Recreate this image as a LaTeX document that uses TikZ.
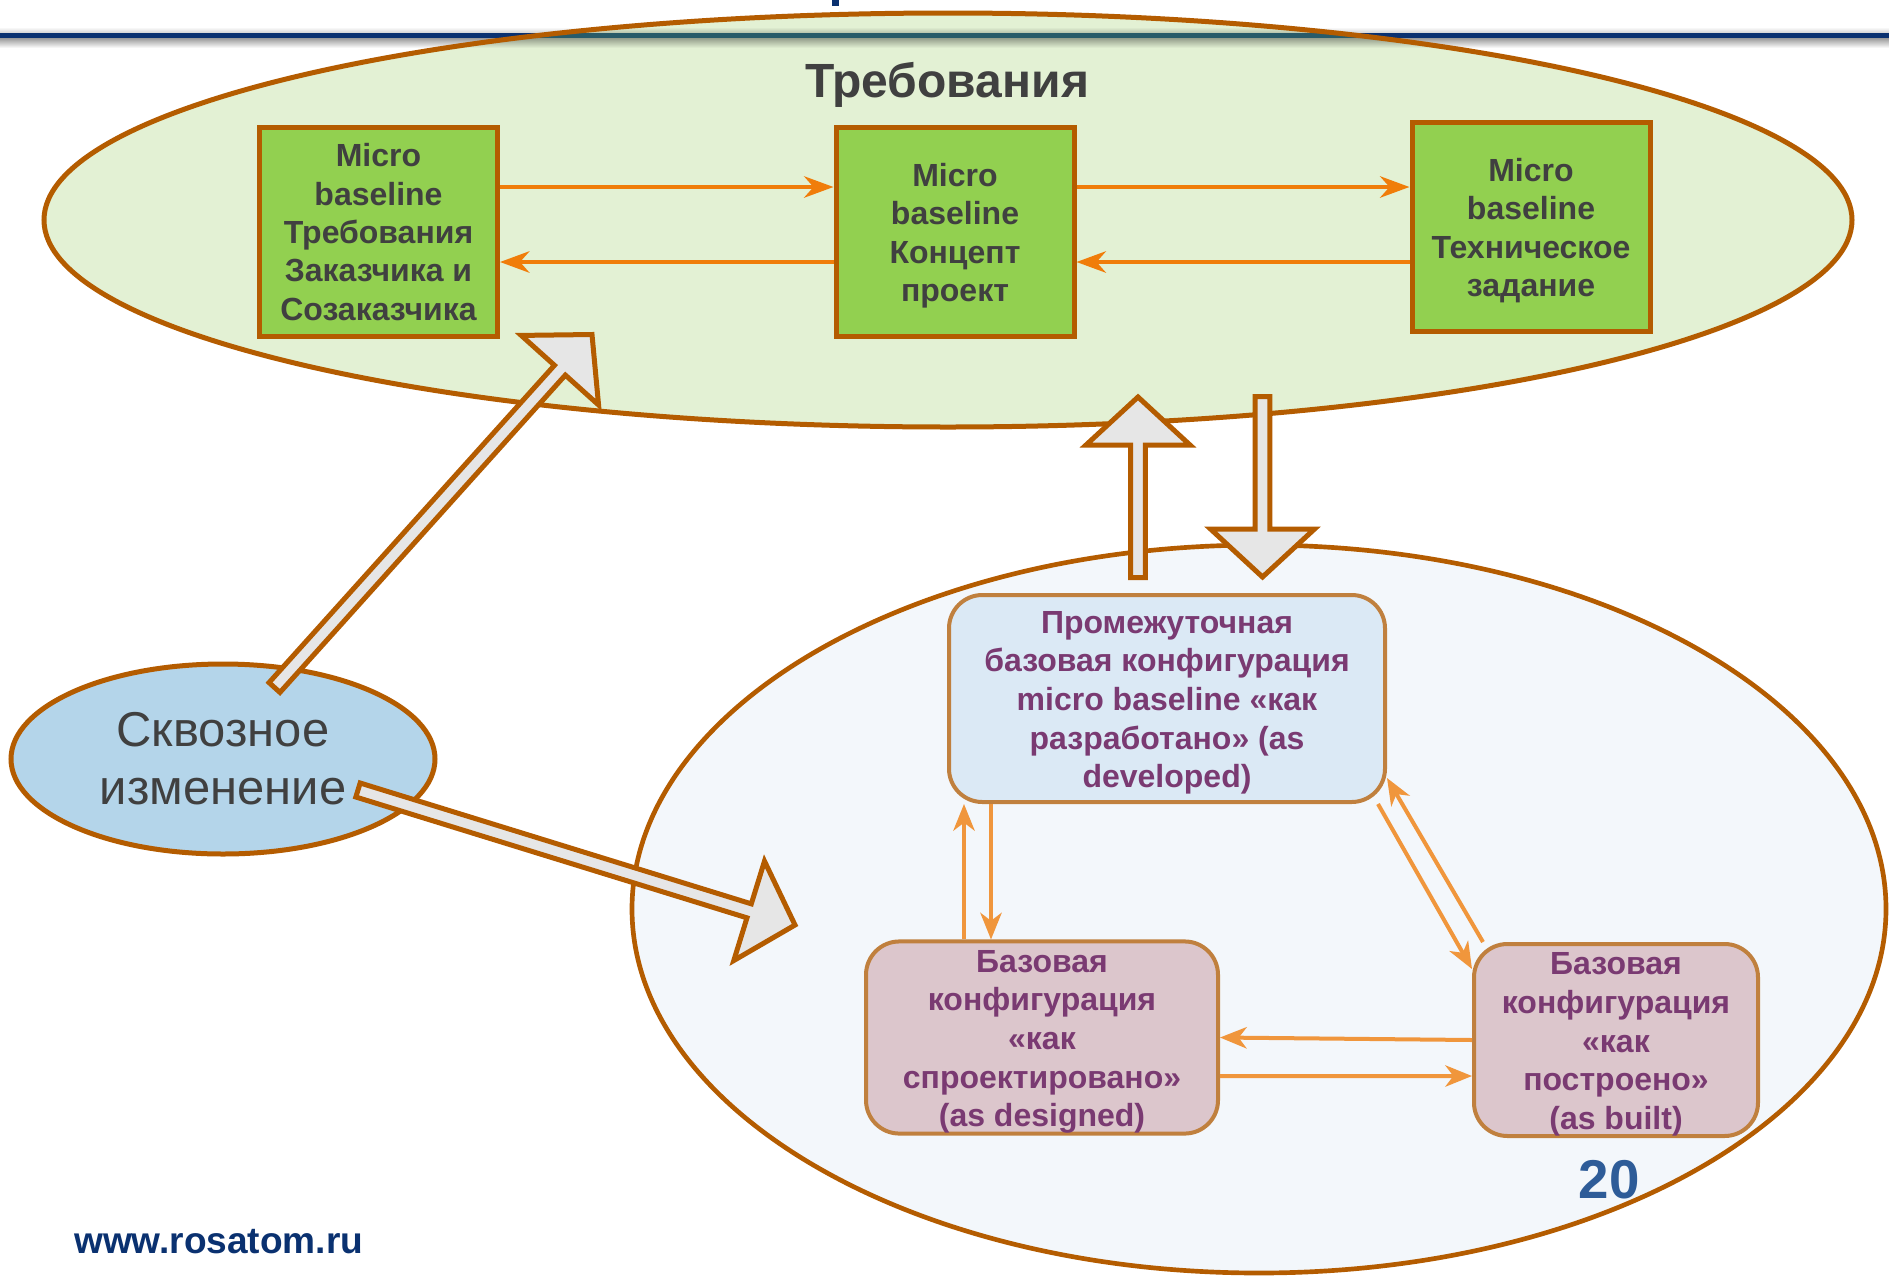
\documentclass[tikz,border=0pt]{standalone}
\usepackage{fontspec}
\setmainfont{Liberation Sans}
\usetikzlibrary{arrows.meta,calc,shapes.geometric}

\definecolor{navy}{HTML}{0A3170}
\definecolor{bandteal}{HTML}{285B69}
\definecolor{reqfill}{HTML}{E3F1D4}
\definecolor{edgeorange}{HTML}{B45C00}
\definecolor{boxgreen}{HTML}{92D050}
\definecolor{arrorange}{HTML}{F07D0A}
\definecolor{textgrey}{HTML}{404040}
\definecolor{chgfill}{HTML}{B4D5EA}
\definecolor{cfgarea}{HTML}{F3F7FB}
\definecolor{pfill}{HTML}{DBE9F5}
\definecolor{dfill}{HTML}{DCC6CC}
\definecolor{cfgedge}{HTML}{C0803E}
\definecolor{cfgtext}{HTML}{7A3A72}
\definecolor{lightorange}{HTML}{F0963C}
\definecolor{fatgrey}{HTML}{E6E6E6}
\definecolor{pgblue}{HTML}{2E5C98}

% hollow block arrow from #1 (tail) to #2 (tip)
\newcommand\fatarrow[2]{%
  \coordinate (fa-h) at ($(#2)!36pt!(#1)$);
  \draw[fatstyle]
    ($(#1)!5.5pt!90:(#2)$) --
    ($(fa-h)!5.5pt!90:(#2)$) --
    ($(fa-h)!39pt!90:(#2)$) --
    (#2) --
    ($(fa-h)!39pt!-90:(#2)$) --
    ($(fa-h)!5.5pt!-90:(#2)$) --
    ($(#1)!5.5pt!-90:(#2)$) -- cycle;}

% taller first line, to lower a text block a little inside its box
\newcommand\toplift{\rule{0pt}{23pt}}

\begin{document}
\begin{tikzpicture}[x=0.75pt,y=-0.75pt,
  bigell/.style={ellipse, inner sep=0pt, outer sep=0pt},
  mbox/.style={rectangle, draw=edgeorange, line width=3.75pt, fill=boxgreen,
    inner sep=0pt, minimum width=178.5pt, minimum height=156.75pt,
    align=center, text=textgrey,
    font=\bfseries\fontsize{24pt}{28.8pt}\selectfont},
  cbox/.style={rectangle, rounded corners=25pt, draw=cfgedge, line width=3pt,
    inner sep=0pt, align=center, text=cfgtext,
    font=\bfseries\fontsize{24pt}{29pt}\selectfont},
  toparr/.style={draw=arrorange, line width=3.4pt,
    -{Stealth[length=22pt,width=16pt,inset=7pt]}},
  lowarr/.style={draw=lightorange, line width=3pt,
    -{Stealth[length=20pt,width=16pt,inset=6pt]}},
  fatstyle/.style={draw=edgeorange, fill=fatgrey, line width=3.75pt}]

\useasboundingbox (0,0) rectangle (1889,1275);
\fill[white] (0,0) rectangle (1889,1275);

% header rule with its soft shadow
\shade[top color=white, bottom color=black!18] (0,27) rectangle (1889,33);
\shade[top color=black!40, bottom color=white] (0,38) rectangle (1889,48);
\fill[navy] (0,32.7) rectangle (1889,38.3);
\fill[navy] (832,0) rectangle (839,6);

% requirements area
\node[bigell, fill=reqfill, minimum width=1356pt, minimum height=310.5pt] (req) at (948,220) {};
\begin{scope}
  \clip (req.center) ellipse [x radius=678pt, y radius=155.25pt];
  \shade[top color=reqfill, bottom color=black!20!reqfill] (0,27) rectangle (1889,33);
  \shade[top color=black!35!reqfill, bottom color=reqfill] (0,38) rectangle (1889,48);
  \fill[bandteal] (0,32.7) rectangle (1889,38.3);
\end{scope}
\draw[edgeorange, line width=3.75pt] (req.center) ellipse [x radius=678pt, y radius=155.25pt];

\node[anchor=base, inner sep=0pt, text=textgrey,
  font=\bfseries\fontsize{36pt}{40pt}\selectfont] (reqtitle) at (947,97) {Требования};

\node[mbox] (b1) at (378.5,232) {Micro\\baseline\\Требования\\Заказчика и\\Созаказчика};
\node[mbox] (b2) at (955,232) {\toplift Micro\\baseline\\Концепт\\проект};
\node[mbox] (b3) at (1531,227) {\toplift Micro\\baseline\\Техническое\\задание};

\draw[toparr] ([yshift=33.75pt]b1.east) -- ([yshift=33.75pt]b2.west);
\draw[toparr] ([yshift=-22.5pt]b2.west) -- ([yshift=-22.5pt]b1.east);
\draw[toparr] ([yshift=33.75pt]b2.east) -- ([yshift=30pt]b3.west);
\draw[toparr] ([yshift=-26.25pt]b3.west) -- ([yshift=-22.5pt]b2.east);

% configuration area
\node[bigell, draw=edgeorange, line width=3.5pt, fill=cfgarea,
  minimum width=940.5pt, minimum height=546pt] (cfg) at (1259,909) {};

\node[cbox, fill=pfill, minimum width=327pt, minimum height=155.25pt] (P) at (1167,698.5)
  {\toplift Промежуточная\\базовая конфигурация\\micro baseline «как\\разработано» (as\\developed)};
\node[cbox, fill=dfill, minimum width=264pt, minimum height=143.25pt] (D) at (1042,1037.5)
  {\toplift Базовая\\конфигурация\\«как\\спроектировано»\\(as designed)};
\node[cbox, fill=dfill, minimum width=213pt, minimum height=142.5pt] (B) at (1616,1040)
  {\toplift Базовая\\конфигурация\\«как\\построено»\\(as built)};

\coordinate (d1) at ([xshift=-58.5pt]D.north);
\coordinate (d2) at ([xshift=-38.25pt]D.north);
\draw[lowarr] (d1) -- (d1 |- P.south);
\draw[lowarr] (d2 |- P.south) -- (d2);
\draw[lowarr] ([xshift=-6.75pt]P.south east) -- ([yshift=-20.25pt]B.north west);
\draw[lowarr] ([xshift=8.25pt]B.north west) -- ([yshift=19.5pt]P.south east);
\draw[lowarr] (B.west) -- (D.east);
\draw[lowarr] ([yshift=-28.9pt]D.east) -- ([yshift=-27pt]B.west);

% cross-cutting change
\node[bigell, draw=edgeorange, line width=3.75pt, fill=chgfill,
  minimum width=318pt, minimum height=142.5pt, align=center, text=textgrey,
  font=\fontsize{36.7pt}{43.5pt}\selectfont] (chg) at (223,759) {Сквозное\\изменение};

% hollow block arrows
\coordinate (faT1) at (274.5,687.5);  \coordinate (faH1) at (592,334.5);
\coordinate (faT2) at (358,790);      \coordinate (faH2) at (795,925);
\coordinate (faT3) at (1138,577.5);   \coordinate (faH3) at (1138,397);
\coordinate (faT4) at (1262.5,396.5); \coordinate (faH4) at (1262.5,577);
\fatarrow{faT1}{faH1}
\fatarrow{faT2}{faH2}
\fatarrow{faT3}{faH3}
\fatarrow{faT4}{faH4}

% footer
\node[anchor=base, inner sep=0pt, text=pgblue,
  font=\bfseries\fontsize{41pt}{45pt}\selectfont] (pg) at (1609,1198) {20};
\node[anchor=base west, inner sep=0pt, text=navy,
  font=\bfseries\fontsize{27.8pt}{32pt}\selectfont] (url) at (74,1253) {www.rosatom.ru};
\end{tikzpicture}
\end{document}
